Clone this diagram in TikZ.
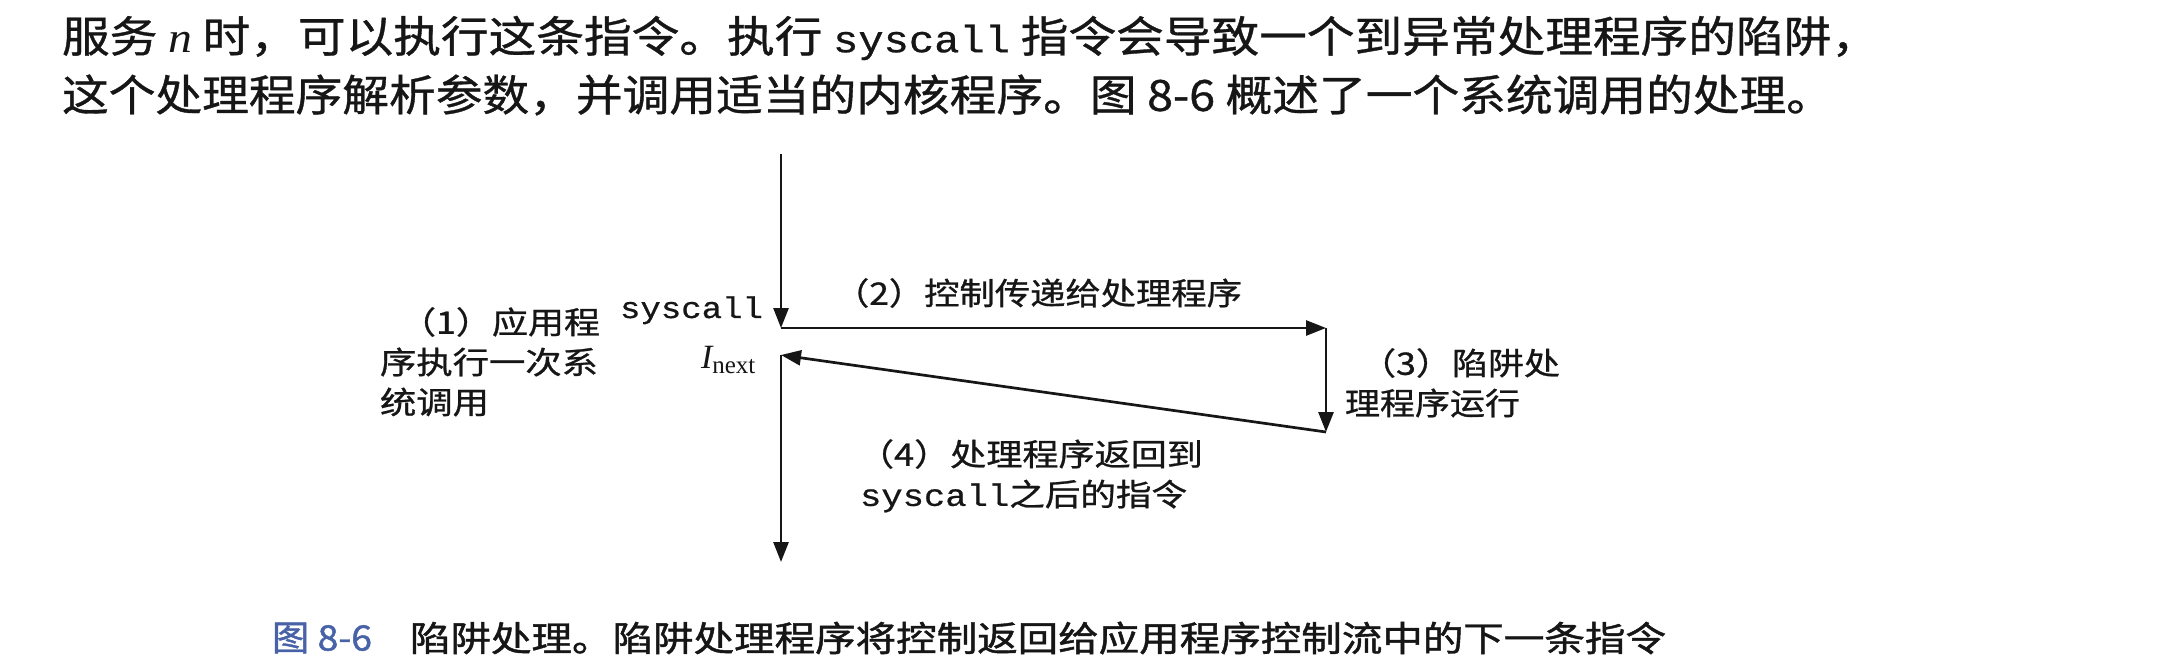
\documentclass[tikz,border=0pt]{standalone}
\usepackage{fontspec}
\usepackage{graphicx}
\setmainfont{Liberation Serif}
\newfontfamily\cjk{Noto Sans CJK SC}[FakeBold=0.8]
\newfontfamily\cjkcap{Noto Sans CJK SC}[FakeBold=1.2]
\newfontfamily\mono{Liberation Mono}[FakeBold=0.6]
\usetikzlibrary{arrows.meta}
\newcommand\fitw[2]{\resizebox{#1pt}{\height}{#2}}
\definecolor{capblue}{RGB}{72,98,168}
\definecolor{ink}{RGB}{22,22,22}
\begin{document}
\begin{tikzpicture}[x=1pt,y=-1pt,
  lbl/.style={inner sep=0pt,outer sep=0pt,text=ink},
  arr/.style={line width=2.7pt,draw=ink,-{Triangle[length=20pt,width=15pt]}},
  para/.style={lbl,font=\cjk\fontsize{43}{50}\selectfont},
  fig/.style={lbl,font=\cjk\fontsize{31}{38}\selectfont},
  captext/.style={lbl,font=\cjkcap\fontsize{35}{40}\selectfont}]
\fill[white] (0,0) rectangle (2160,662);
\useasboundingbox (0,0) rectangle (2160,662);
% paragraph
\node[para,anchor=west] (p1) at (62,38) {\fitw{1817}{服务 {\rmfamily\itshape n} 时，可以执行这条指令。执行 {\mono\fontsize{38}{50}\selectfont syscall} 指令会导致一个到异常处理程序的陷阱，}};
\node[para,anchor=west] (p2) at (62,95) {\fitw{1771}{这个处理程序解析参数，并调用适当的内核程序。图 8-6 概述了一个系统调用的处理。}};
% coordinates of the flow
\coordinate (top) at (781,154);
\coordinate (sc) at (781,328);
\coordinate (hr) at (1326,328);
\coordinate (hb) at (1326,432);
\coordinate (nx) at (781,355);
\coordinate (bot) at (781,562);
\draw[arr] (top) -- (sc);
\draw[arr] (sc) -- (hr);
\draw[arr] (hr) -- (hb);
\draw[arr] (hb) -- (nx);
\draw[arr] (nx) -- (bot);
% labels
\node[fig,anchor=east] (l1a) at (600,322) {\fitw{200}{（1）应用程}};
\node[fig,anchor=west] (l1b) at (380,362) {\fitw{218}{序执行一次系}};
\node[fig,anchor=west] (l1c) at (380,402) {\fitw{109}{统调用}};
\node[lbl,anchor=base east,font=\mono\fontsize{30}{36}\selectfont] (sys) at (763,318) {\fitw{143}{syscall}};
\node[lbl,anchor=base west,font=\fontsize{34}{40}\selectfont] (inx) at (701,368) {{\itshape I}\raisebox{-5pt}{\fontsize{25}{25}\selectfont next}};
\node[fig,anchor=east] (l2) at (1242,293) {\fitw{408}{（2）控制传递给处理程序}};
\node[fig,anchor=east] (l3a) at (1560,363) {\fitw{200}{（3）陷阱处}};
\node[fig,anchor=west] (l3b) at (1345,403) {\fitw{175}{理程序运行}};
\node[fig,anchor=east] (l4a) at (1203,454) {\fitw{345}{（4）处理程序返回到}};
\node[fig,anchor=west] (l4b) at (860,496) {\fitw{327}{{\mono syscall}之后的指令}};
% caption
\node[captext,anchor=west,text=capblue] (capn) at (272,638) {\fitw{100}{图 8-6}};
\node[captext,anchor=west] (capt) at (410,638) {\fitw{1256}{陷阱处理。陷阱处理程序将控制返回给应用程序控制流中的下一条指令}};
\end{tikzpicture}
\end{document}
